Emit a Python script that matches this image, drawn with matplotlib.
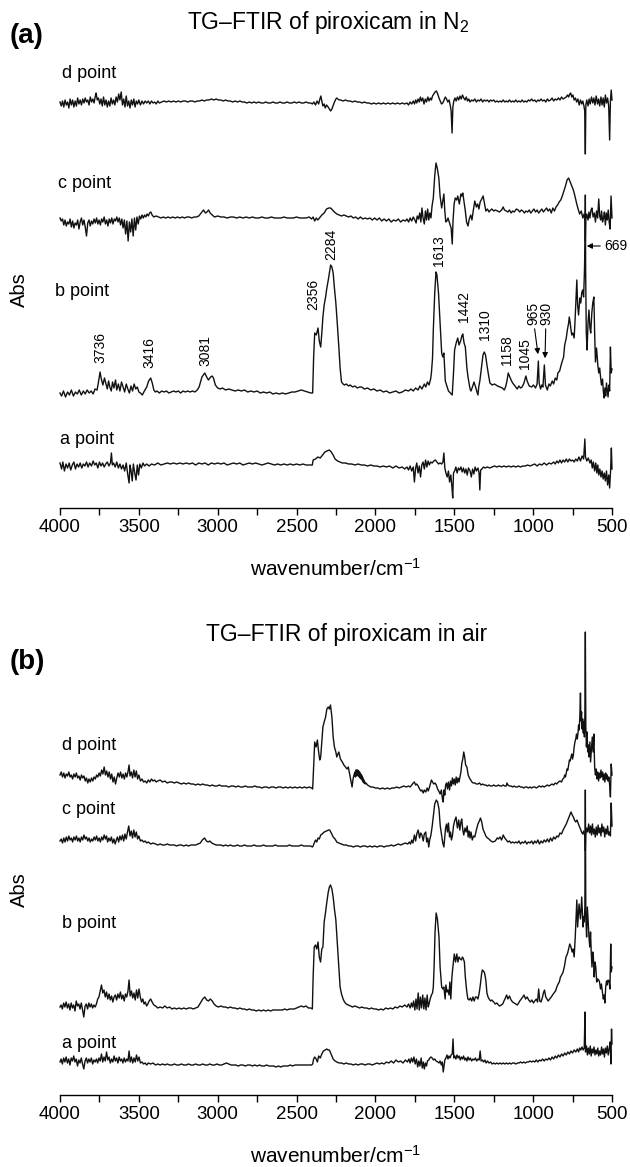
import numpy as np
import matplotlib
matplotlib.use("Agg")
import matplotlib.pyplot as plt
from matplotlib.ticker import MultipleLocator

plt.rcParams['font.family'] = ['Liberation Sans', 'DejaVu Sans']
plt.rcParams['mathtext.fontset'] = 'custom'
plt.rcParams['mathtext.rm'] = 'Liberation Sans'
plt.rcParams['mathtext.it'] = 'Liberation Sans:italic'

#%% data: (wavenumber cm-1, absorbance in arbitrary units above each trace baseline)
a_n2 = [(4000,2),(3990,-4),(3982,3),(3972,-6),(3962,1),(3952,-3),(3942,2),(3932,-5),(3922,0),(3912,3),(3902,-4),(3892,1),(3882,-2),(3872,2),(3862,-3),(3852,1),(3842,-1),(3832,3),(3822,-2),(3812,2),(3800,-1),(3790,4),(3780,0),(3770,2),(3760,-3),(3750,3),(3740,-1),(3730,2),(3720,-2),(3710,1),(3700,3),(3690,-1),(3680,2),(3674,12),(3668,0),(3660,2),(3650,-2),(3640,3),(3630,-3),(3620,1),(3610,-4),(3600,0),(3590,-6),(3580,2),(3570,-10),(3562,-18),(3556,0),(3550,-5),(3542,-16),(3535,1),(3526,-8),(3518,-15),(3510,0),(3502,-10),(3494,1),(3484,-3),(3474,2),(3464,-1),(3450,1),(3435,-1),(3420,1),(3400,0),(3380,2),(3360,0),(3340,1),(3320,2),(3300,1),(3280,2),(3260,1),(3240,2),(3220,1),(3200,2),(3180,1),(3160,2),(3140,0),(3120,2),(3100,1),(3080,2),(3060,0),(3040,2),(3020,1),(3000,2),(2980,1),(2960,2),(2940,0),(2920,1),(2900,2),(2880,1),(2860,2),(2840,0),(2820,1),(2800,2),(2780,1),(2760,2),(2740,1),(2720,0),(2700,1),(2680,2),(2660,1),(2640,0),(2620,1),(2600,0),(2580,1),(2560,0),(2540,1),(2520,0),(2500,1),(2480,0),(2460,1),(2440,0),(2420,0),(2400,0),(2395,5),(2380,6),(2365,8),(2350,7),(2335,10),(2320,13),(2308,14),(2292,15),(2280,13),(2268,10),(2256,6),(2240,4),(2225,3),(2210,2),(2190,2),(2170,1),(2150,1),(2130,0),(2110,1),(2090,0),(2070,0),(2050,-1),(2030,0),(2010,-1),(1990,-1),(1970,-2),(1950,-1),(1930,-2),(1910,-1),(1890,-3),(1870,-1),(1850,-3),(1830,-2),(1815,-4),(1800,-2),(1790,-5),(1780,-1),(1770,-6),(1760,-2),(1753,-17),(1745,-3),(1738,2),(1730,-8),(1722,-1),(1714,-12),(1706,0),(1698,3),(1690,-4),(1682,5),(1674,-2),(1666,4),(1658,0),(1650,3),(1640,2),(1630,4),(1620,5),(1610,3),(1600,1),(1590,2),(1580,1),(1572,3),(1566,12),(1560,-3),(1553,-8),(1545,-12),(1537,-6),(1530,-17),(1522,-10),(1515,-22),(1510,-33),(1505,-8),(1498,-6),(1490,-2),(1482,-8),(1474,-3),(1466,-5),(1458,-2),(1450,-7),(1442,-3),(1434,-8),(1426,-4),(1418,-10),(1410,-3),(1400,-6),(1392,-12),(1384,-4),(1376,-9),(1368,-2),(1360,-6),(1350,-3),(1343,-8),(1338,-25),(1333,-5),(1325,-4),(1315,-2),(1305,-3),(1290,-2),(1275,-3),(1260,-2),(1245,-1),(1230,-2),(1215,-1),(1200,-2),(1185,-1),(1170,-2),(1155,-1),(1140,-2),(1125,-1),(1110,-2),(1095,-1),(1080,-2),(1065,-1),(1050,-1),(1035,0),(1020,-1),(1005,0),(990,1),(975,-1),(960,1),(945,0),(930,2),(915,0),(900,2),(885,1),(870,3),(860,1),(850,4),(840,2),(830,5),(820,2),(810,5),(800,3),(790,6),(780,3),(770,6),(760,4),(750,5),(740,3),(730,6),(720,4),(710,8),(700,4),(690,9),(680,6),(672,26),(668,8),(660,4),(650,7),(640,2),(632,5),(625,-3),(618,3),(610,-6),(603,2),(596,-8),(590,0),(584,-10),(577,-4),(570,-12),(563,-6),(556,-14),(549,-8),(542,-16),(535,-6),(528,-20),(521,-10),(515,-23),(509,-6),(504,17),(500,-4)]

b_n2 = [(4000,0),(3990,-3),(3978,2),(3965,-4),(3952,1),(3940,-2),(3928,3),(3915,-3),(3902,1),(3890,-1),(3878,3),(3865,-2),(3852,2),(3840,-1),(3828,3),(3815,0),(3802,2),(3790,-1),(3778,4),(3765,3),(3755,12),(3746,21),(3738,14),(3728,8),(3718,15),(3708,9),(3700,4),(3692,12),(3684,6),(3675,2),(3667,11),(3658,5),(3648,13),(3640,3),(3630,9),(3620,2),(3610,11),(3600,6),(3590,1),(3580,9),(3570,4),(3560,0),(3550,7),(3540,2),(3530,9),(3520,4),(3510,6),(3500,1),(3490,0),(3478,-2),(3465,2),(3450,6),(3438,12),(3425,15),(3415,10),(3405,3),(3395,1),(3385,2),(3370,0),(3355,2),(3340,1),(3325,2),(3310,0),(3295,1),(3280,2),(3265,1),(3250,2),(3235,0),(3220,2),(3205,1),(3190,2),(3175,1),(3160,2),(3145,1),(3130,3),(3118,6),(3100,16),(3082,20),(3070,16),(3059,13),(3045,16),(3035,17),(3027,15),(3015,8),(3000,5),(2985,4),(2970,5),(2950,3),(2930,4),(2910,3),(2890,2),(2870,3),(2850,2),(2830,3),(2810,1),(2790,2),(2770,1),(2750,2),(2730,0),(2710,1),(2690,0),(2670,1),(2650,-1),(2630,0),(2610,-1),(2590,0),(2570,-1),(2550,0),(2530,1),(2510,1),(2490,2),(2470,3),(2450,2),(2430,1),(2410,0),(2398,0),(2392,35),(2385,60),(2375,58),(2364,65),(2356,52),(2347,46),(2340,60),(2333,76),(2325,88),(2316,96),(2308,105),(2299,113),(2292,120),(2284,128),(2276,126),(2268,120),(2260,105),(2251,90),(2242,70),(2232,46),(2224,25),(2215,11),(2205,9),(2196,8),(2185,9),(2170,7),(2160,8),(2145,6),(2130,7),(2115,5),(2100,6),(2088,6),(2070,4),(2050,5),(2030,3),(2010,4),(1990,2),(1970,3),(1950,1),(1930,2),(1910,0),(1890,1),(1870,2),(1850,0),(1830,1),(1810,3),(1790,2),(1775,4),(1760,2),(1745,5),(1730,3),(1718,7),(1705,4),(1690,9),(1681,6),(1670,11),(1660,8),(1650,14),(1645,20),(1638,35),(1633,63),(1624,100),(1616,121),(1610,118),(1600,100),(1590,70),(1580,40),(1573,36),(1566,40),(1557,12),(1549,8),(1537,2),(1525,0),(1513,-2),(1505,20),(1498,43),(1488,50),(1478,55),(1470,48),(1460,52),(1452,57),(1446,59),(1438,50),(1430,46),(1420,25),(1413,16),(1400,4),(1394,2),(1385,6),(1375,11),(1365,6),(1358,2),(1350,-2),(1345,6),(1338,12),(1327,26),(1318,38),(1310,41),(1302,38),(1293,28),(1283,18),(1274,10),(1260,8),(1245,9),(1226,7),(1210,6),(1195,5),(1183,3),(1175,6),(1166,12),(1158,20),(1150,17),(1140,13),(1130,10),(1115,7),(1101,4),(1090,7),(1080,5),(1070,6),(1058,10),(1046,17),(1038,12),(1025,7),(1010,6),(998,8),(985,5),(975,9),(967,32),(962,10),(953,4),(945,8),(938,6),(929,28),(922,8),(910,3),(900,9),(891,7),(879,12),(870,9),(860,15),(850,13),(843,20),(832,22),(819,30),(807,36),(800,48),(790,55),(783,63),(775,70),(771,76),(765,70),(760,63),(755,58),(748,60),(740,55),(735,70),(728,95),(723,113),(718,88),(712,78),(704,95),(698,90),(692,100),(686,103),(680,96),(675,120),(671,150),(669,198),(667,120),(663,60),(658,43),(652,70),(646,83),(640,65),(635,60),(628,80),(622,90),(615,96),(610,60),(605,31),(598,45),(590,28),(584,20),(578,25),(572,15),(567,8),(560,14),(555,2),(550,-5),(545,5),(540,-3),(535,10),(530,3),(525,-4),(520,8),(515,2),(510,46),(505,20),(500,24)]

c_n2 = [(4000,-2),(3992,-5),(3984,-3),(3976,-9),(3968,-4),(3960,-10),(3952,-6),(3944,-8),(3936,-3),(3928,-11),(3920,-5),(3912,-12),(3904,-7),(3896,-9),(3888,-4),(3880,-13),(3872,-6),(3864,-2),(3856,-9),(3848,-4),(3840,-11),(3832,-20),(3824,-7),(3816,-4),(3808,-10),(3800,-5),(3792,-8),(3784,-3),(3776,-7),(3768,-2),(3760,-8),(3752,-4),(3744,-9),(3736,-3),(3728,-6),(3720,-1),(3712,-8),(3704,-4),(3696,-10),(3688,-3),(3680,-7),(3672,-2),(3664,-8),(3656,-3),(3648,-5),(3640,-1),(3632,-6),(3624,-2),(3616,-9),(3608,-3),(3600,-12),(3592,-4),(3584,-18),(3576,-5),(3568,-25),(3560,-6),(3552,-16),(3544,-3),(3536,-20),(3528,-2),(3520,-14),(3512,-1),(3504,-8),(3496,0),(3488,-3),(3480,1),(3472,-2),(3464,1),(3456,-1),(3448,2),(3440,0),(3432,3),(3424,4),(3416,1),(3405,-1),(3390,0),(3375,-1),(3360,-2),(3345,-1),(3330,-2),(3315,-1),(3300,-2),(3285,-1),(3270,-2),(3255,-1),(3240,-2),(3225,-1),(3210,-2),(3195,-1),(3180,-1),(3165,-2),(3150,-1),(3135,-1),(3120,0),(3105,3),(3090,6),(3078,3),(3068,4),(3058,6),(3048,3),(3035,1),(3020,-1),(3000,0),(2980,-1),(2960,-1),(2940,-2),(2920,-1),(2900,-1),(2880,-2),(2860,-1),(2840,-2),(2820,-1),(2800,-2),(2780,-1),(2760,-2),(2740,-2),(2720,-1),(2700,-2),(2680,-2),(2660,-1),(2640,-2),(2620,-2),(2600,-2),(2580,-1),(2560,-2),(2540,-2),(2520,-2),(2500,-1),(2480,-2),(2460,-2),(2440,-2),(2420,-1),(2405,-3),(2395,-1),(2385,-5),(2375,-2),(2365,-4),(2350,-1),(2340,1),(2325,3),(2310,7),(2296,8),(2284,8),(2272,6),(2260,4),(2245,2),(2230,1),(2215,0),(2200,1),(2185,0),(2170,-1),(2155,0),(2140,-2),(2125,-1),(2110,-3),(2095,-1),(2080,-3),(2065,-2),(2050,-3),(2035,-2),(2020,-4),(2005,-2),(1990,-4),(1975,-2),(1960,-5),(1945,-3),(1930,-5),(1915,-3),(1900,-6),(1885,-4),(1870,-5),(1855,-3),(1840,-6),(1825,-4),(1810,-5),(1800,-3),(1790,-6),(1780,-2),(1770,-5),(1760,-1),(1750,-4),(1742,-7),(1735,0),(1727,-3),(1719,3),(1712,-6),(1705,8),(1698,-2),(1690,-8),(1683,5),(1676,-4),(1669,7),(1662,-4),(1655,3),(1648,-2),(1641,10),(1633,18),(1624,40),(1616,53),(1608,48),(1598,38),(1590,20),(1580,8),(1573,15),(1566,22),(1560,5),(1554,-6),(1547,-5),(1540,-2),(1530,-7),(1520,-12),(1513,-28),(1508,-5),(1501,12),(1494,18),(1485,16),(1478,20),(1468,12),(1458,22),(1452,20),(1446,23),(1438,14),(1430,5),(1422,-6),(1413,-10),(1405,-3),(1396,1),(1388,-4),(1380,5),(1370,15),(1360,9),(1352,12),(1344,7),(1336,14),(1326,17),(1317,20),(1310,14),(1300,5),(1290,7),(1280,4),(1270,6),(1262,7),(1250,5),(1240,6),(1226,5),(1214,4),(1200,6),(1190,9),(1182,6),(1170,5),(1160,4),(1150,6),(1140,3),(1130,5),(1120,4),(1106,7),(1095,6),(1085,4),(1075,6),(1065,5),(1055,3),(1046,5),(1035,4),(1025,6),(1015,3),(1005,5),(995,7),(985,4),(975,6),(965,3),(955,5),(945,7),(935,4),(925,6),(915,8),(905,5),(895,7),(885,3),(875,8),(865,5),(855,9),(845,11),(835,14),(825,16),(815,20),(805,25),(795,30),(785,36),(775,38),(765,34),(755,30),(745,26),(735,20),(725,13),(715,7),(705,2),(695,5),(685,-2),(677,2),(671,-5),(669,-25),(666,-3),(660,2),(652,-4),(646,4),(640,-2),(633,6),(627,8),(620,-1),(612,3),(605,-6),(598,5),(591,-2),(584,17),(578,0),(572,-4),(566,5),(560,-6),(554,-2),(548,4),(542,-9),(536,3),(530,-4),(524,6),(518,-6),(512,-13),(506,20),(500,-2)]

d_n2 = [(4000,1),(3992,-3),(3984,2),(3976,-4),(3968,3),(3960,-2),(3952,1),(3944,-5),(3936,4),(3928,-2),(3920,3),(3912,-4),(3904,2),(3896,-3),(3888,5),(3880,-1),(3872,3),(3864,-2),(3856,4),(3848,0),(3840,5),(3832,1),(3824,3),(3816,-2),(3808,6),(3800,1),(3792,4),(3784,0),(3776,7),(3771,10),(3764,3),(3756,5),(3748,-1),(3740,4),(3732,-3),(3724,6),(3716,-2),(3708,3),(3700,-4),(3692,2),(3684,-3),(3676,5),(3668,-1),(3660,3),(3652,-2),(3644,6),(3636,1),(3628,9),(3620,3),(3612,11),(3604,-2),(3596,4),(3588,-4),(3580,7),(3572,-3),(3564,2),(3556,-5),(3548,3),(3540,-2),(3532,4),(3524,-4),(3516,2),(3508,-1),(3500,3),(3490,-2),(3480,2),(3470,-1),(3460,2),(3450,0),(3440,2),(3430,-1),(3420,2),(3410,0),(3400,1),(3390,-1),(3380,2),(3370,0),(3355,1),(3340,2),(3325,1),(3310,2),(3295,1),(3280,2),(3265,1),(3250,2),(3235,1),(3220,2),(3205,2),(3190,1),(3175,2),(3160,2),(3145,1),(3130,2),(3115,2),(3100,3),(3085,2),(3070,3),(3055,3),(3040,4),(3025,3),(3010,4),(2995,3),(2980,3),(2965,2),(2950,3),(2935,2),(2920,2),(2905,1),(2890,2),(2875,1),(2860,2),(2845,1),(2830,1),(2815,0),(2800,1),(2785,0),(2770,1),(2755,0),(2740,1),(2725,0),(2710,0),(2695,1),(2680,0),(2665,0),(2650,1),(2635,0),(2620,0),(2605,1),(2590,0),(2575,0),(2560,1),(2545,0),(2530,0),(2515,1),(2500,0),(2485,1),(2470,0),(2455,0),(2440,1),(2425,0),(2410,0),(2400,-1),(2390,1),(2380,-2),(2370,2),(2360,-1),(2352,4),(2346,7),(2340,2),(2333,-3),(2325,-1),(2318,-5),(2310,-2),(2300,-4),(2292,-6),(2284,-8),(2276,-6),(2269,-3),(2262,0),(2254,3),(2246,5),(2238,4),(2230,3),(2220,3),(2205,2),(2190,3),(2175,2),(2160,2),(2145,1),(2130,2),(2115,1),(2100,1),(2085,0),(2070,1),(2055,0),(2040,0),(2025,-1),(2010,0),(1995,-1),(1980,0),(1965,-1),(1950,0),(1935,-1),(1920,0),(1905,-1),(1890,0),(1875,-1),(1860,0),(1845,-1),(1830,0),(1815,-1),(1800,0),(1790,-2),(1780,1),(1770,-1),(1760,2),(1752,-1),(1745,3),(1738,0),(1730,4),(1722,1),(1715,6),(1708,2),(1700,5),(1692,-1),(1684,4),(1676,1),(1668,6),(1660,2),(1652,5),(1645,3),(1638,7),(1630,9),(1622,11),(1613,12),(1605,9),(1597,5),(1589,2),(1581,-1),(1573,0),(1565,3),(1557,6),(1549,4),(1541,1),(1533,3),(1526,-2),(1520,-8),(1514,-30),(1509,-4),(1503,2),(1496,5),(1488,2),(1480,6),(1472,3),(1464,7),(1456,4),(1448,8),(1440,5),(1432,3),(1424,6),(1416,2),(1408,4),(1400,1),(1390,3),(1380,2),(1370,4),(1360,1),(1350,3),(1340,2),(1330,4),(1320,1),(1310,3),(1300,2),(1290,3),(1280,1),(1270,3),(1260,2),(1250,3),(1240,1),(1230,2),(1220,1),(1210,2),(1200,1),(1190,3),(1180,1),(1170,2),(1160,1),(1150,3),(1140,1),(1130,2),(1120,1),(1110,3),(1100,1),(1090,2),(1080,1),(1070,3),(1060,1),(1050,2),(1040,1),(1030,3),(1020,2),(1010,4),(1000,2),(990,3),(980,1),(970,3),(960,2),(950,4),(940,2),(930,3),(920,1),(910,4),(900,2),(890,3),(880,5),(870,2),(860,4),(850,3),(840,5),(830,3),(820,6),(810,4),(800,5),(790,6),(782,8),(775,6),(768,9),(762,10),(755,6),(748,8),(740,3),(732,5),(724,1),(716,4),(708,-2),(700,3),(692,-1),(685,2),(678,-3),(673,-8),(669,-51),(666,-2),(660,3),(652,-3),(645,4),(638,-1),(630,6),(622,0),(615,5),(608,-2),(600,7),(592,-1),(585,4),(578,-3),(570,6),(563,-2),(556,5),(549,-4),(542,8),(535,0),(528,5),(521,-3),(515,-37),(510,2),(505,13),(500,3)]

a_air = [(4000,2),(3993,5),(3985,0),(3977,6),(3969,2),(3961,7),(3953,1),(3945,5),(3937,-1),(3929,6),(3921,3),(3913,8),(3905,2),(3897,5),(3889,-2),(3881,4),(3873,1),(3865,6),(3857,0),(3849,-5),(3841,3),(3833,6),(3825,1),(3817,5),(3809,2),(3801,6),(3793,0),(3785,4),(3777,2),(3769,5),(3761,1),(3753,6),(3745,3),(3737,10),(3729,2),(3721,7),(3713,3),(3705,12),(3697,4),(3689,7),(3681,1),(3673,5),(3665,2),(3657,8),(3649,3),(3641,6),(3633,1),(3625,7),(3617,3),(3609,5),(3601,1),(3593,6),(3585,2),(3577,5),(3569,3),(3562,13),(3555,2),(3547,7),(3539,1),(3531,6),(3523,2),(3515,9),(3507,3),(3499,7),(3490,1),(3480,2),(3470,0),(3460,1),(3450,-1),(3440,1),(3425,0),(3410,1),(3395,-1),(3380,0),(3365,-1),(3350,0),(3335,-1),(3320,0),(3305,-1),(3290,-1),(3275,0),(3260,-1),(3245,-1),(3230,0),(3215,-1),(3200,-1),(3185,0),(3170,-1),(3155,-1),(3140,0),(3125,-1),(3110,-1),(3095,0),(3080,-1),(3065,-1),(3050,0),(3035,-1),(3020,-1),(3005,0),(2990,-1),(2975,-1),(2960,0),(2945,1),(2930,0),(2915,-1),(2900,-1),(2885,-1),(2870,-2),(2855,-1),(2840,-1),(2825,-2),(2810,-1),(2795,-1),(2780,-2),(2765,-1),(2750,-2),(2735,-1),(2720,-2),(2705,-2),(2690,-1),(2675,-2),(2660,-2),(2645,-2),(2630,-3),(2615,-2),(2600,-3),(2585,-2),(2570,-2),(2555,-2),(2540,-1),(2525,-2),(2510,-1),(2495,-1),(2480,-1),(2465,-1),(2450,-1),(2435,-1),(2420,-1),(2405,-1),(2398,0),(2392,5),(2385,7),(2376,5),(2368,2),(2360,8),(2350,6),(2340,10),(2330,13),(2318,14),(2309,15),(2300,14),(2292,14),(2284,11),(2276,8),(2268,5),(2256,3),(2245,2),(2230,1),(2215,1),(2200,0),(2185,1),(2170,0),(2155,0),(2140,-1),(2125,0),(2110,-1),(2095,0),(2080,0),(2065,-1),(2050,0),(2035,0),(2020,-1),(2005,0),(1990,1),(1975,0),(1960,1),(1945,0),(1930,2),(1915,1),(1900,3),(1885,1),(1870,4),(1855,2),(1840,3),(1825,1),(1810,4),(1797,2),(1788,5),(1780,1),(1772,6),(1764,2),(1756,7),(1748,0),(1740,5),(1732,-3),(1725,3),(1718,-2),(1710,6),(1703,-4),(1696,2),(1690,-5),(1683,1),(1676,-2),(1670,3),(1662,4),(1655,6),(1648,7),(1640,6),(1632,4),(1624,5),(1615,3),(1605,2),(1597,1),(1590,3),(1582,-1),(1576,2),(1570,-8),(1565,-2),(1560,4),(1553,6),(1546,9),(1540,5),(1534,8),(1527,6),(1520,9),(1513,10),(1508,25),(1503,6),(1497,8),(1490,5),(1483,9),(1476,6),(1469,8),(1462,4),(1455,7),(1448,5),(1441,8),(1434,4),(1427,6),(1420,3),(1413,7),(1406,4),(1398,6),(1390,3),(1382,5),(1374,4),(1366,6),(1358,3),(1350,5),(1342,4),(1336,13),(1330,3),(1322,4),(1314,2),(1306,4),(1298,1),(1290,3),(1280,1),(1270,2),(1260,0),(1250,1),(1240,0),(1230,1),(1220,0),(1210,1),(1200,0),(1190,1),(1180,0),(1170,1),(1160,0),(1150,1),(1140,0),(1130,1),(1120,1),(1110,0),(1100,1),(1090,1),(1080,2),(1070,1),(1060,2),(1050,1),(1040,2),(1030,2),(1020,3),(1010,2),(1000,3),(990,2),(980,4),(970,2),(960,4),(950,3),(940,5),(930,3),(920,5),(910,4),(900,6),(890,4),(880,7),(870,5),(860,8),(850,6),(840,9),(830,7),(820,10),(810,8),(800,11),(790,9),(780,12),(770,10),(760,13),(750,11),(740,14),(730,12),(720,15),(712,12),(705,16),(698,14),(690,17),(683,14),(676,16),(671,52),(668,12),(662,18),(656,9),(650,16),(644,10),(638,18),(632,8),(626,15),(620,11),(614,17),(608,9),(602,14),(596,10),(590,16),(584,8),(578,13),(572,9),(566,17),(560,10),(554,15),(548,7),(542,16),(536,11),(530,18),(524,9),(518,15),(512,22),(507,0),(503,35),(500,20)]

b_air = [(4000,0),(3993,2),(3985,-2),(3977,4),(3969,0),(3961,5),(3953,-1),(3945,3),(3937,-3),(3929,4),(3921,-1),(3913,2),(3905,-4),(3897,6),(3889,1),(3881,3),(3873,-2),(3865,4),(3857,-3),(3849,-10),(3841,1),(3833,3),(3825,-2),(3817,4),(3809,0),(3801,3),(3793,-1),(3785,2),(3777,0),(3769,3),(3761,8),(3753,10),(3745,16),(3737,22),(3729,14),(3721,17),(3713,10),(3705,15),(3697,8),(3689,13),(3681,7),(3673,11),(3665,5),(3657,10),(3649,12),(3641,7),(3633,13),(3625,9),(3617,15),(3609,8),(3601,12),(3593,6),(3585,13),(3577,10),(3569,16),(3562,27),(3555,11),(3547,16),(3539,9),(3531,14),(3523,7),(3515,17),(3507,9),(3499,18),(3491,10),(3483,5),(3475,8),(3467,3),(3459,5),(3451,1),(3443,3),(3435,6),(3425,8),(3416,5),(3405,2),(3394,1),(3380,-1),(3365,0),(3350,-1),(3335,1),(3320,-1),(3305,0),(3290,-2),(3275,-1),(3260,-2),(3245,-1),(3230,-2),(3215,-1),(3200,-2),(3185,-1),(3170,-1),(3155,-2),(3140,-1),(3125,0),(3110,4),(3095,8),(3082,10),(3070,7),(3059,6),(3047,8),(3035,6),(3023,3),(3010,1),(2995,0),(2980,1),(2965,0),(2950,0),(2935,-1),(2920,0),(2905,-1),(2890,-1),(2875,-2),(2860,-1),(2845,-2),(2830,-2),(2815,-3),(2800,-2),(2785,-3),(2770,-3),(2755,-4),(2740,-3),(2725,-4),(2710,-3),(2695,-4),(2680,-3),(2665,-4),(2650,-3),(2635,-3),(2620,-3),(2605,-3),(2590,-3),(2575,-2),(2560,-3),(2545,-2),(2530,-2),(2515,-2),(2500,-1),(2485,0),(2470,1),(2455,0),(2440,1),(2425,-1),(2410,-1),(2400,-2),(2395,30),(2388,60),(2380,62),(2372,58),(2364,65),(2356,50),(2348,45),(2340,58),(2333,60),(2325,85),(2316,95),(2308,105),(2299,115),(2292,120),(2285,122),(2276,118),(2268,110),(2260,98),(2251,87),(2242,65),(2232,40),(2224,20),(2215,13),(2205,8),(2196,5),(2185,3),(2172,2),(2160,1),(2145,0),(2130,1),(2115,0),(2100,-1),(2088,0),(2070,-1),(2055,-1),(2040,-2),(2025,-1),(2010,-2),(1995,-2),(1980,-3),(1965,-2),(1950,-3),(1935,-1),(1920,-2),(1905,-1),(1890,-2),(1875,0),(1860,-1),(1845,1),(1830,0),(1815,2),(1800,0),(1790,3),(1780,-1),(1772,4),(1765,0),(1758,6),(1750,-3),(1743,8),(1736,-2),(1729,14),(1722,-3),(1715,10),(1708,-1),(1700,12),(1693,-2),(1686,9),(1679,-3),(1672,12),(1665,0),(1660,3),(1653,8),(1645,12),(1638,14),(1633,20),(1628,40),(1622,75),(1615,94),(1607,88),(1597,70),(1590,40),(1580,20),(1573,18),(1566,20),(1558,8),(1553,22),(1546,15),(1540,17),(1533,12),(1528,25),(1522,8),(1515,30),(1509,40),(1500,53),(1492,45),(1484,53),(1477,45),(1470,50),(1462,48),(1455,47),(1448,50),(1442,48),(1436,45),(1430,30),(1422,17),(1414,8),(1406,7),(1398,9),(1390,6),(1382,10),(1374,6),(1366,10),(1358,10),(1350,8),(1342,14),(1335,22),(1327,33),(1322,37),(1315,36),(1308,34),(1300,27),(1293,14),(1286,10),(1279,8),(1270,6),(1262,7),(1250,5),(1240,3),(1230,4),(1220,2),(1212,1),(1202,2),(1193,3),(1185,6),(1176,9),(1168,12),(1160,8),(1150,11),(1140,7),(1130,5),(1120,4),(1110,3),(1100,2),(1092,4),(1085,6),(1075,8),(1066,10),(1058,12),(1048,8),(1038,10),(1028,7),(1018,5),(1008,7),(998,4),(990,6),(980,8),(972,5),(965,18),(958,6),(950,5),(942,9),(935,14),(928,17),(920,10),(912,8),(905,6),(895,8),(885,10),(877,12),(868,14),(858,16),(850,20),(842,23),(834,25),(827,30),(819,32),(810,35),(800,42),(792,50),(783,53),(775,58),(768,63),(760,60),(753,55),(747,58),(740,50),(733,70),(726,96),(723,107),(718,80),(713,92),(709,103),(704,95),(700,88),(696,100),(692,110),(688,95),(684,80),(680,90),(676,85),(672,100),(669,217),(666,90),(661,70),(656,100),(651,85),(646,70),(641,60),(636,75),(632,56),(627,40),(622,55),(618,50),(613,30),(608,45),(603,40),(597,25),(591,28),(584,27),(579,25),(573,18),(567,23),(561,15),(555,8),(550,12),(545,4),(540,20),(535,26),(531,22),(525,27),(519,26),(513,18),(508,63),(505,35),(500,40)]

c_air = [(4000,5),(3992,7),(3984,3),(3976,8),(3968,4),(3960,9),(3952,5),(3944,10),(3936,6),(3928,8),(3920,4),(3912,9),(3904,6),(3896,10),(3888,5),(3880,8),(3872,4),(3864,9),(3856,6),(3848,11),(3840,7),(3832,9),(3824,5),(3816,8),(3808,4),(3800,7),(3792,5),(3784,9),(3776,6),(3768,10),(3760,5),(3752,8),(3744,4),(3736,9),(3728,6),(3720,11),(3712,7),(3705,10),(3698,4),(3690,8),(3682,5),(3674,9),(3666,3),(3658,7),(3650,2),(3643,6),(3636,9),(3628,4),(3620,10),(3612,6),(3604,11),(3596,5),(3588,12),(3580,7),(3572,14),(3564,20),(3556,10),(3548,15),(3540,8),(3532,16),(3524,9),(3516,14),(3508,7),(3500,10),(3490,5),(3480,6),(3470,4),(3460,5),(3450,3),(3440,4),(3425,2),(3410,3),(3395,2),(3380,1),(3365,2),(3350,1),(3335,1),(3320,2),(3305,1),(3290,1),(3275,1),(3260,0),(3245,1),(3230,1),(3215,0),(3200,1),(3185,0),(3170,1),(3155,1),(3140,1),(3125,2),(3110,3),(3098,6),(3083,8),(3072,5),(3060,4),(3050,5),(3038,3),(3025,2),(3010,1),(2995,1),(2980,1),(2965,0),(2950,1),(2935,0),(2920,1),(2905,0),(2890,0),(2875,1),(2860,0),(2845,0),(2830,1),(2815,0),(2800,0),(2785,0),(2770,1),(2755,0),(2740,0),(2725,0),(2710,1),(2695,0),(2680,0),(2665,0),(2650,0),(2635,1),(2620,0),(2605,0),(2590,0),(2575,0),(2560,0),(2545,1),(2530,0),(2515,0),(2500,0),(2485,0),(2470,1),(2455,0),(2440,0),(2425,0),(2410,0),(2400,-1),(2395,0),(2388,3),(2380,6),(2372,4),(2364,8),(2356,7),(2347,11),(2338,12),(2325,14),(2310,15),(2298,16),(2290,16),(2280,13),(2268,9),(2256,7),(2245,4),(2232,3),(2215,2),(2200,1),(2185,1),(2170,0),(2155,0),(2140,-1),(2125,0),(2110,0),(2095,-1),(2080,0),(2065,0),(2050,-1),(2035,0),(2020,-1),(2005,0),(1990,-1),(1975,0),(1960,0),(1945,-1),(1930,0),(1915,0),(1900,1),(1885,0),(1870,1),(1855,2),(1840,1),(1825,2),(1810,3),(1795,2),(1785,4),(1777,2),(1770,6),(1762,3),(1753,11),(1745,5),(1738,12),(1729,16),(1720,8),(1713,13),(1705,11),(1697,5),(1690,12),(1681,14),(1675,4),(1668,8),(1662,-1),(1656,6),(1648,11),(1640,20),(1633,30),(1624,42),(1614,46),(1606,44),(1597,37),(1589,20),(1580,10),(1573,3),(1566,-1),(1560,10),(1555,18),(1549,22),(1543,14),(1537,23),(1530,9),(1524,14),(1518,6),(1512,10),(1505,20),(1498,25),(1489,29),(1480,18),(1472,26),(1465,16),(1458,24),(1453,27),(1446,16),(1440,11),(1432,18),(1425,14),(1418,20),(1412,9),(1406,15),(1400,8),(1394,14),(1386,6),(1378,10),(1370,9),(1360,16),(1350,22),(1341,25),(1334,28),(1326,24),(1318,17),(1310,14),(1300,10),(1290,8),(1280,7),(1268,5),(1255,4),(1240,5),(1228,8),(1220,7),(1210,9),(1200,6),(1190,11),(1180,8),(1170,6),(1160,4),(1150,5),(1140,3),(1130,4),(1120,3),(1110,4),(1100,3),(1090,5),(1080,2),(1070,4),(1060,3),(1050,5),(1040,2),(1030,4),(1020,3),(1010,5),(1000,2),(990,5),(980,3),(970,6),(960,2),(950,5),(940,3),(930,6),(920,4),(910,7),(900,4),(890,8),(880,5),(870,9),(860,7),(850,10),(840,9),(830,13),(820,12),(810,16),(800,19),(790,22),(780,26),(770,30),(760,34),(752,31),(745,29),(738,26),(730,24),(722,26),(715,23),(708,20),(700,17),(693,14),(686,12),(679,15),(673,10),(669,-5),(666,12),(660,18),(654,14),(648,22),(642,13),(636,20),(630,11),(624,22),(618,12),(612,17),(606,9),(600,19),(594,11),(588,21),(582,13),(576,18),(570,10),(564,22),(558,14),(552,19),(546,9),(540,17),(534,12),(528,20),(522,11),(516,14),(510,10),(505,43),(500,20)]

d_air = [(4000,12),(3992,15),(3984,10),(3976,14),(3968,9),(3960,13),(3952,11),(3944,15),(3936,10),(3928,12),(3920,8),(3912,13),(3904,10),(3896,14),(3888,9),(3880,11),(3872,7),(3864,12),(3856,9),(3848,11),(3840,6),(3832,9),(3824,4),(3816,8),(3808,5),(3800,9),(3792,6),(3784,10),(3776,8),(3768,12),(3760,10),(3752,14),(3744,11),(3736,17),(3728,13),(3720,20),(3712,12),(3704,16),(3696,10),(3688,15),(3680,8),(3672,13),(3664,5),(3656,10),(3648,3),(3640,9),(3632,14),(3624,10),(3616,15),(3608,9),(3600,13),(3592,8),(3584,14),(3576,10),(3568,16),(3562,22),(3556,11),(3548,15),(3540,9),(3532,17),(3524,10),(3516,16),(3508,8),(3500,12),(3490,6),(3480,8),(3470,5),(3460,6),(3450,4),(3440,7),(3430,5),(3420,8),(3410,6),(3400,7),(3390,5),(3380,6),(3365,7),(3350,5),(3335,6),(3320,4),(3305,5),(3290,5),(3275,4),(3260,5),(3245,4),(3230,3),(3215,4),(3200,3),(3185,4),(3170,3),(3155,3),(3140,2),(3125,3),(3110,2),(3095,3),(3080,2),(3065,2),(3050,1),(3035,2),(3020,1),(3005,1),(2990,2),(2975,1),(2960,1),(2945,1),(2930,0),(2915,1),(2900,1),(2885,0),(2870,1),(2855,0),(2840,0),(2825,1),(2810,0),(2795,0),(2780,0),(2765,1),(2750,0),(2735,0),(2720,-1),(2705,0),(2690,0),(2675,-1),(2660,0),(2645,0),(2630,-1),(2615,0),(2600,0),(2585,-1),(2570,0),(2555,-1),(2540,0),(2525,-1),(2510,0),(2495,-1),(2480,0),(2465,-1),(2450,0),(2435,-1),(2420,0),(2405,-1),(2398,-2),(2392,20),(2385,45),(2376,40),(2368,47),(2360,35),(2353,27),(2347,30),(2340,45),(2333,60),(2325,65),(2316,70),(2308,78),(2299,80),(2292,78),(2285,82),(2276,70),(2268,50),(2260,40),(2251,35),(2245,30),(2238,33),(2232,35),(2222,28),(2210,25),(2200,22),(2190,20),(2180,18),(2172,20),(2160,10),(2152,3),(2148,0),(2142,8),(2136,12),(2130,15),(2127,10),(2124,17),(2121,11),(2118,17),(2115,12),(2112,17),(2109,11),(2106,16),(2103,10),(2100,15),(2097,9),(2094,13),(2091,8),(2088,12),(2085,7),(2082,10),(2079,5),(2076,8),(2073,4),(2070,6),(2065,3),(2060,4),(2050,2),(2040,1),(2030,0),(2016,0),(2000,-1),(1985,-1),(1970,-2),(1955,-1),(1940,-2),(1925,-1),(1910,-2),(1895,-1),(1880,-1),(1865,0),(1850,-1),(1835,0),(1820,1),(1805,0),(1790,1),(1780,0),(1770,2),(1760,4),(1753,5),(1745,2),(1738,3),(1729,1),(1720,-2),(1712,-4),(1705,-3),(1697,-6),(1690,-3),(1681,-5),(1672,-1),(1665,-4),(1657,0),(1650,4),(1645,7),(1638,5),(1630,3),(1622,4),(1614,2),(1606,-2),(1598,-4),(1590,-7),(1582,-3),(1575,-12),(1570,-15),(1566,-3),(1560,-8),(1555,2),(1549,4),(1543,-2),(1537,5),(1530,-3),(1524,6),(1518,1),(1512,9),(1506,3),(1500,8),(1494,2),(1488,10),(1482,4),(1476,9),(1470,5),(1464,10),(1458,15),(1452,24),(1446,28),(1440,35),(1434,30),(1428,22),(1420,20),(1412,12),(1404,9),(1396,7),(1388,5),(1380,4),(1370,4),(1360,3),(1350,3),(1340,4),(1330,2),(1320,3),(1310,2),(1300,2),(1290,1),(1280,2),(1270,1),(1260,1),(1250,2),(1240,1),(1230,1),(1220,2),(1210,1),(1200,1),(1190,2),(1180,1),(1170,1),(1166,4),(1160,2),(1150,1),(1140,1),(1130,0),(1120,1),(1110,0),(1100,0),(1090,1),(1080,0),(1070,0),(1060,-1),(1050,0),(1040,0),(1030,-1),(1020,0),(1010,-1),(1000,0),(990,0),(980,-1),(970,0),(960,1),(950,0),(940,1),(930,0),(920,1),(910,2),(900,1),(890,2),(880,3),(870,2),(860,4),(850,3),(840,5),(830,6),(820,5),(812,8),(805,9),(800,12),(795,10),(790,14),(785,18),(780,17),(775,22),(770,27),(765,26),(760,30),(755,33),(750,28),(745,32),(740,40),(735,45),(730,48),(725,53),(720,48),(715,55),(712,62),(708,57),(704,70),(700,94),(697,66),(693,75),(690,58),(686,68),(682,54),(678,65),(675,50),(672,72),(669,155),(666,60),(662,40),(658,55),(654,35),(650,42),(646,30),(640,45),(636,25),(630,38),(625,50),(620,35),(615,53),(610,20),(605,12),(600,18),(595,8),(590,15),(585,6),(580,14),(575,9),(570,17),(565,10),(560,15),(555,7),(550,13),(545,5),(540,14),(535,8),(530,12),(525,6),(520,10),(515,2),(510,-10),(505,23),(500,12)]

trace_names = ['a point', 'b point', 'c point', 'd point']
n2_traces = [a_n2, b_n2, c_n2, d_n2]
air_traces = [a_air, b_air, c_air, d_air]

peak_wn = [3736, 3416, 3081, 2356, 2284, 1613, 1442, 1310, 1158, 1045, 965, 930]
peak_text = ['3736', '3416', '3081', '2356', '2284', '1613', '1442', '1310', '1158', '1045', '965', '930']

#%% layout (pixels of a 630 x 1167 canvas)
W, H = 630, 1167
fig = plt.figure(figsize=(W / 100, H / 100), dpi=100)

def make_axes(bottom_px, top_px):
    ax = fig.add_axes([60 / W, (H - bottom_px) / H, 552 / W, (bottom_px - top_px) / H])
    ax.set_xlim(4000, 500)
    ax.set_ylim(0, bottom_px - top_px)
    for s in ['left', 'right', 'top']:
        ax.spines[s].set_visible(False)
    ax.spines['bottom'].set_linewidth(1.0)
    ax.set_yticks([])
    ax.xaxis.set_major_locator(MultipleLocator(500))
    ax.xaxis.set_minor_locator(MultipleLocator(250))
    ax.tick_params(axis='x', which='both', direction='out', length=5, width=1.0, labelsize=13.5, pad=3)
    ax.patch.set_alpha(0)
    return ax

def draw(ax, trace, offset):
    pts = sorted(trace, key=lambda p: -p[0])
    w = np.array([p[0] for p in pts])
    h = np.array([p[1] for p in pts], dtype=float)
    ax.plot(w, h + offset, color='#111111', lw=1.0, clip_on=False)

# panel (a)
ax1 = make_axes(508, 40)
offs1 = [43, 115, 292, 405]
lab1 = [69, 216, 324, 435]
labx1 = [4000, 4030, 4010, 3990]
for tr, o, name, ly, lx in zip(n2_traces, offs1, trace_names, lab1, labx1):
    draw(ax1, tr, o)
    ax1.text(lx, ly, name, fontsize=13, ha='left', va='center')

# peak labels on b point (N2)
lab_x = [3741, 3430, 3078, 2395, 2280, 1597, 1437, 1303, 1166, 1051, 998, 915]
lab_y = [30, 25, 27, 83, 133, 127, 71, 53, 28, 24, 68, 68]
bo = offs1[1]
for t, lx, ly in zip(peak_text, lab_x, lab_y):
    ax1.text(lx, bo + ly, t, rotation=90, fontsize=10, ha='center', va='bottom')
ax1.annotate('', xy=(967, bo + 36), xytext=(993, bo + 67),
             arrowprops=dict(arrowstyle='-|>', lw=0.8, color='k', mutation_scale=8))
ax1.annotate('', xy=(925, bo + 32), xytext=(920, bo + 67),
             arrowprops=dict(arrowstyle='-|>', lw=0.8, color='k', mutation_scale=8))
ax1.annotate('669', xy=(660, bo + 147), xytext=(548, bo + 147), fontsize=10,
             va='center', ha='left', annotation_clip=False,
             arrowprops=dict(arrowstyle='-|>', lw=0.8, color='k', mutation_scale=8,
                             shrinkA=1, shrinkB=0))

# panel (b)
ax2 = make_axes(1095, 620)
offs2 = [31, 88, 249, 308]
lab2 = [52, 172, 285, 350]
for tr, o, name, ly in zip(air_traces, offs2, trace_names, lab2):
    draw(ax2, tr, o)
    ax2.text(3985, ly, name, fontsize=13, ha='left', va='center')

for ax in (ax1, ax2):
    ax.set_xlabel('wavenumber/cm$^{\u22121}$', fontsize=15, labelpad=16)

# titles, panel letters, y labels
fig.text(328 / W, 1 - 22 / H, 'TG\u2013FTIR of piroxicam in N$_2$', fontsize=16.5, ha='center', va='center')
fig.text(347 / W, 1 - 635 / H, 'TG\u2013FTIR of piroxicam in air', fontsize=16.5, ha='center', va='center')
fig.text(10 / W, 1 - 36 / H, '(a)', fontsize=20, fontweight='bold', ha='left', va='center')
fig.text(10 / W, 1 - 662 / H, '(b)', fontsize=20, fontweight='bold', ha='left', va='center')
fig.text(19 / W, 1 - 290 / H, 'Abs', fontsize=14.5, rotation=90, ha='center', va='center')
fig.text(19 / W, 1 - 890 / H, 'Abs', fontsize=14.5, rotation=90, ha='center', va='center')

fig.savefig('out.png', dpi=100)
